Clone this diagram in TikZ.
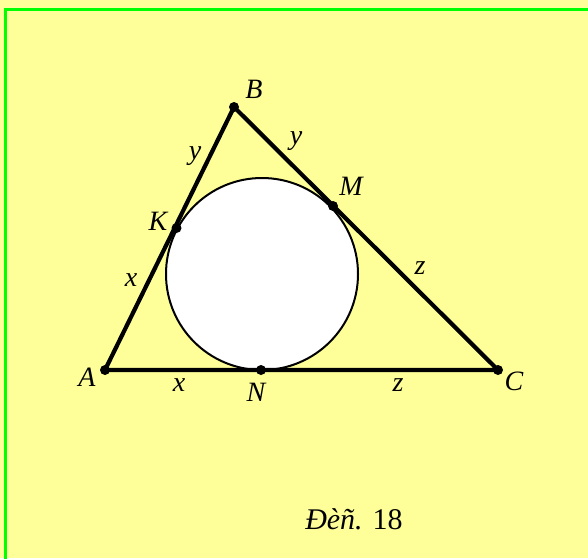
\documentclass[tikz,border=0pt]{standalone}
\usepackage{fontspec}
\setmainfont{Liberation Serif}
\begin{document}
\begin{tikzpicture}[x=1pt,y=-1pt,
  lbl/.style={font=\fontsize{28}{28}\selectfont\itshape, inner sep=0pt},
  dot/.style={circle, fill=black, inner sep=0pt, minimum size=10pt},
  side/.style={line width=4.2pt, line join=round},
  ring/.style={line width=2pt, fill=white}]
\definecolor{bgyellow}{RGB}{255,255,153}
\definecolor{bordergreen}{RGB}{0,255,0}
\useasboundingbox (0,0) rectangle (588,558);
\fill[bgyellow] (0,0) rectangle (588,558);
\draw[bordergreen, line width=3pt] (5,600) -- (5,9) -- (600,9);
% points
\coordinate (A) at (105,370);
\coordinate (B) at (234,107);
\coordinate (C) at (498,370);
\coordinate (O) at (262,274);
\coordinate (K) at (176.5,228);
\coordinate (M) at (333,206);
\coordinate (N) at (261,370);
% incircle
\draw[ring] (O) circle (96);
% triangle
\draw[side] (A) -- (B) -- (C) -- cycle;
% dots
\foreach \p in {A,B,C,K,M,N} \node[dot] at (\p) {};
% vertex labels
\node[lbl] (lA) at (87,377) {A};
\node[lbl] (lB) at (254,89) {B};
\node[lbl] (lC) at (514,381) {C};
\node[lbl] (lK) at (158,221) {K};
\node[lbl] (lM) at (351,186) {M};
\node[lbl] (lN) at (256,392) {N};
% segment labels
\node[lbl] (x1) at (131,280) {x};
\node[lbl] (x2) at (179,385) {x};
\node[lbl] (y1) at (195,156) {y};
\node[lbl] (y2) at (296,141) {y};
\node[lbl] (z1) at (420,268) {z};
\node[lbl] (z2) at (398,385) {z};
% caption
\node[inner sep=0pt, font=\fontsize{30}{30}\selectfont] (cap) at (354,519) {\textit{Đèñ.} 18};
\end{tikzpicture}
\end{document}
